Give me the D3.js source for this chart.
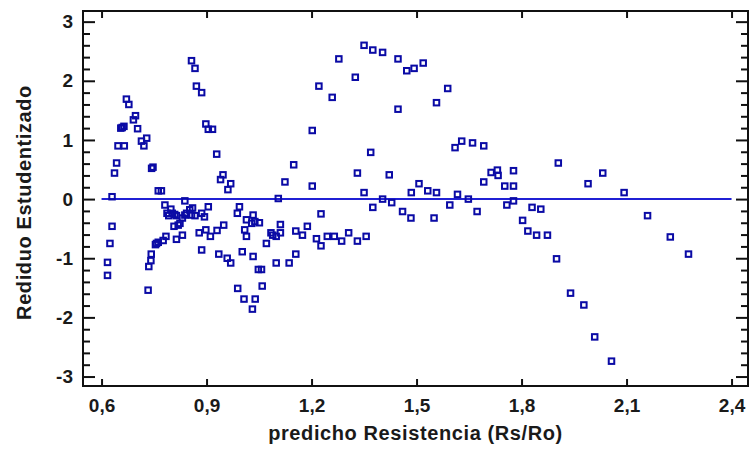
<!DOCTYPE html>
<html>
<head>
<meta charset="utf-8">
<script src="https://cdn.jsdelivr.net/npm/d3@7"></script>
<style>
  html, body { margin: 0; padding: 0; background: #fff; overflow: hidden; }
  .chart svg { display: block; }
  .chart text { font-family: "Liberation Sans", Arial, sans-serif; font-weight: bold; fill: #1a1a1a; }
</style>
</head>
<body>
<div class="chart"></div>
<script>
// predicted values and studentized residuals
const predicho = [
  0.617, 0.617, 0.624, 0.630, 0.630, 0.637, 0.643, 0.647, 0.665, 0.655,
  0.659, 0.664, 0.671, 0.678, 0.691, 0.697, 0.703, 0.714, 0.721, 0.729,
  0.743, 0.747, 0.762, 0.771, 0.733, 0.735, 0.741, 0.742, 0.754, 0.757,
  0.762, 0.776, 0.784, 0.781, 0.787, 0.792, 0.798, 0.802, 0.809, 0.814,
  0.807, 0.819, 0.824, 0.814, 0.831, 0.831, 0.838, 0.838, 0.843, 0.852,
  0.860, 0.857, 0.867, 0.879, 0.886, 0.886, 0.894, 0.898, 0.905, 0.911,
  0.857, 0.867, 0.871, 0.886, 0.898, 0.905, 0.917, 0.929, 0.940, 0.947,
  0.961, 0.969, 0.930, 0.935, 0.949, 0.959, 0.969, 0.989, 1.007, 0.988,
  0.994, 1.002, 1.009, 1.014, 1.014, 1.031, 1.039, 1.059, 1.033, 1.048,
  1.057, 1.033, 1.029, 1.038, 1.051, 1.071, 1.084, 1.089, 1.099, 1.111,
  1.111, 1.099, 1.136, 1.155, 1.155, 1.174, 1.188, 1.105, 1.124, 1.149,
  1.202, 1.202, 1.221, 1.259, 1.278, 1.325, 1.350, 1.375, 1.403, 1.447,
  1.472, 1.493, 1.519, 1.447, 1.557, 1.589, 1.227, 1.214, 1.227, 1.245,
  1.265, 1.286, 1.306, 1.331, 1.356, 1.331, 1.369, 1.350, 1.375, 1.403,
  1.422, 1.429, 1.460, 1.484, 1.485, 1.507, 1.532, 1.550, 1.557, 1.595,
  1.610, 1.629, 1.660, 1.692, 1.617, 1.648, 1.673, 1.692, 1.713, 1.731,
  1.733, 1.752, 1.777, 1.777, 1.758, 1.777, 1.803, 1.818, 1.830, 1.855,
  1.843, 1.874, 1.900, 1.905, 1.940, 1.978, 1.990, 2.009, 2.032, 2.057,
  2.093, 2.160, 2.225, 2.277
];
const residuo = [
  -1.07, -1.29, -0.75, -0.46, 0.04, 0.44, 0.61, 0.90, 0.90, 1.20,
  1.21, 1.23, 1.69, 1.60, 1.34, 1.41, 1.19, 0.98, 0.90, 1.03,
  0.52, 0.54, 0.14, 0.14, -1.54, -1.14, -1.04, -0.93, -0.77, -0.75,
  -0.73, -0.70, -0.63, -0.10, -0.24, -0.28, -0.17, -0.24, -0.26, -0.28,
  -0.46, -0.44, -0.41, -0.68, -0.61, -0.32, -0.27, -0.03, -0.24, -0.18,
  -0.15, -0.27, -0.28, -0.57, -0.24, -0.86, -0.30, -0.52, -0.13, -0.63,
  2.34, 2.21, 1.91, 1.80, 1.27, 1.18, 1.18, 0.76, 0.33, 0.41,
  0.16, 0.26, -0.53, -0.93, -0.44, -1.00, -1.08, -1.51, -1.69, -0.24,
  -0.13, -0.89, -0.52, -0.35, -0.63, -1.86, -1.69, -1.47, -0.97, -1.19,
  -1.19, -0.27, -0.41, -0.38, -0.40, -0.75, -0.57, -0.61, -0.63, -0.43,
  -0.57, -1.08, -1.08, -0.93, -0.54, -0.61, -0.46, 0.01, 0.29, 0.58,
  0.22, 1.16, 1.91, 1.72, 2.37, 2.06, 2.60, 2.52, 2.48, 2.37,
  2.17, 2.21, 2.30, 1.52, 1.63, 1.87, -0.25, -0.67, -0.79, -0.63,
  -0.63, -0.71, -0.57, -0.71, -0.63, 0.44, 0.79, 0.11, -0.14, 0.00,
  0.41, -0.06, -0.21, -0.32, 0.11, 0.26, 0.14, -0.32, 0.11, -0.10,
  0.87, 0.98, 0.95, 0.90, 0.08, 0.00, -0.21, 0.29, 0.45, 0.49,
  0.40, 0.22, 0.22, 0.48, -0.10, -0.03, -0.36, -0.54, -0.14, -0.17,
  -0.61, -0.61, -1.01, 0.61, -1.59, -1.79, 0.26, -2.33, 0.44, -2.74,
  0.11, -0.28, -0.64, -0.93
];

const xTicks = [0.6, 0.9, 1.2, 1.5, 1.8, 2.1, 2.4];
const yTicks = [-3, -2, -1, 0, 1, 2, 3];
const yMinor = d3.range(-30, 31, 2).map(d => d / 10).filter(d => !Number.isInteger(d));

const xTitle = 'predicho Resistencia (Rs/Ro)';
const yTitle = 'Rediduo Estudentizado';

const width = 751, height = 450;
const margin = {top: 11, right: 3, bottom: 64, left: 83};
const innerWidth = width - margin.left - margin.right;
const innerHeight = height - margin.top - margin.bottom;

const svg = d3.select('.chart').append('svg')
    .attr('width', width)
    .attr('height', height);

const g = svg.append('g')
    .attr('transform', `translate(${margin.left},${margin.top})`);

// scales
const xScale = d3.scaleLinear().domain([0.547, 2.447]).range([0, innerWidth]);
const yScale = d3.scaleLinear().domain([-3.16, 3.18]).range([innerHeight, 0]);

const comma = d => d3.format('.1f')(d).replace('.', ',');

// axes, ticks pointing inside the box
const styleAxis = (sel) => {
    sel.select('.domain').remove();
    sel.selectAll('.tick line').attr('stroke', '#111').attr('stroke-width', 2);
    sel.selectAll('.tick text').attr('font-size', 19);
};
// frame-only axes: drop the empty labels
const ticksOnly = (sel) => {
    styleAxis(sel);
    sel.selectAll('.tick text').remove();
};

g.append('g')
    .attr('transform', `translate(0,${innerHeight})`)
    .call(d3.axisBottom(xScale).tickValues(xTicks).tickSize(-7).tickPadding(13).tickFormat(comma))
    .call(styleAxis);

g.append('g')
    .call(d3.axisTop(xScale).tickValues(xTicks).tickSize(-7))
    .call(ticksOnly);

g.append('g')
    .call(d3.axisLeft(yScale).tickValues(yTicks).tickSize(-12).tickPadding(10).tickFormat(d => String(d)))
    .call(styleAxis);

g.append('g')
    .call(d3.axisLeft(yScale).tickValues(yMinor).tickSize(-7))
    .call(ticksOnly);

g.append('g')
    .attr('transform', `translate(${innerWidth},0)`)
    .call(d3.axisRight(yScale).tickValues(yTicks).tickSize(-12))
    .call(ticksOnly);

g.append('g')
    .attr('transform', `translate(${innerWidth},0)`)
    .call(d3.axisRight(yScale).tickValues(yMinor).tickSize(-7))
    .call(ticksOnly);

// frame
g.append('rect')
    .attr('width', innerWidth)
    .attr('height', innerHeight)
    .attr('fill', 'none')
    .attr('stroke', '#111')
    .attr('stroke-width', 2);

// zero line
g.append('line')
    .attr('x1', xScale(xTicks[0]))
    .attr('x2', xScale(xTicks[xTicks.length - 1]))
    .attr('y1', yScale(0))
    .attr('y2', yScale(0))
    .attr('stroke', '#2020d4')
    .attr('stroke-width', 2);

// points
const points = predicho.map((p, i) => ({x: p, y: residuo[i]}));
const s = 5.5;
g.selectAll('rect.pt')
    .data(points)
    .enter()
    .append('rect')
    .classed('pt', true)
    .attr('x', d => xScale(d.x) - s / 2)
    .attr('y', d => yScale(d.y) - s / 2)
    .attr('width', s)
    .attr('height', s)
    .attr('fill', 'none')
    .attr('stroke', '#0a0aa5')
    .attr('stroke-width', 2);

// axis titles
g.append('text')
    .text(xTitle)
    .attr('x', innerWidth / 2)
    .attr('y', innerHeight + 54)
    .attr('text-anchor', 'middle')
    .attr('font-size', 20)
    .attr('letter-spacing', 0.6);

g.append('text')
    .text(yTitle)
    .attr('transform', `translate(${-52},${innerHeight / 2 + 4}) rotate(-90)`)
    .attr('text-anchor', 'middle')
    .attr('font-size', 20)
    .attr('letter-spacing', 0.6);
</script>
</body>
</html>
